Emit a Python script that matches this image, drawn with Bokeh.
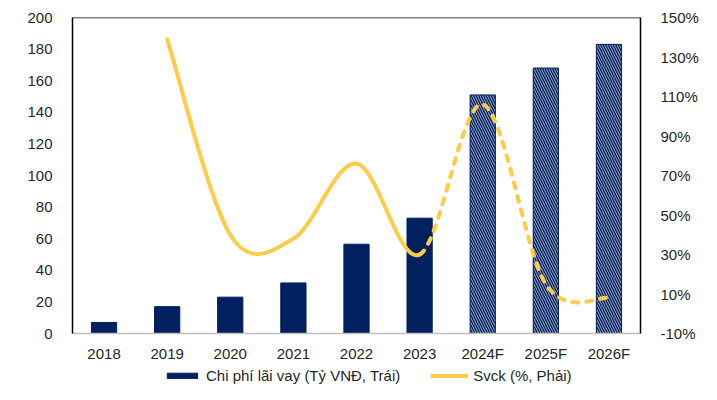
import numpy as np
from bokeh.plotting import figure
from bokeh.layouts import column
from bokeh.models import (FactorRange, Range1d, LinearAxis, FixedTicker, Legend,
                          LegendItem, Span)
from bokeh.embed import file_html
from bokeh.resources import INLINE

# ---------------- data ----------------
years = ["2018", "2019", "2020", "2021", "2022", "2023", "2024F", "2025F", "2026F"]
interest_cost = [7, 17, 23, 32, 56.5, 73, 151, 168, 183]          # Tỷ VNĐ (left)
forecast_flag = [False, False, False, False, False, False, True, True, True]

svck_years = ["2019", "2020", "2021", "2022", "2023", "2024F", "2025F", "2026F"]
svck = [139, 40, 38, 76, 30, 106, 15, 8]                             # % (right)
last_actual = "2023"

left_ticks = [0, 20, 40, 60, 80, 100, 120, 140, 160, 180, 200]
right_ticks = [-10, 10, 30, 50, 70, 90, 110, 130, 150]

bar_label = "Chi phí lãi vay (Tỷ VNĐ, Trái)"
line_label = "Svck (%, Phải)"

NAVY = "#002060"
GOLD = "#FFCC47"
FONT = "Liberation Sans"
TXT = "#262626"
FS = "15px"

# ---------------- main figure ----------------
p = figure(width=701, height=366, x_range=FactorRange(*years, range_padding=0),
           y_range=Range1d(0, 200), output_backend="svg", toolbar_location=None,
           min_border_left=72, min_border_right=51, min_border_top=17, min_border_bottom=33)
p.outline_line_color = None
p.xgrid.grid_line_color = None
p.ygrid.grid_line_color = None
p.extra_y_ranges = {"pct": Range1d(-10, 150)}

act_x = [y for y, f in zip(years, forecast_flag) if not f]
act_v = [v for v, f in zip(interest_cost, forecast_flag) if not f]
fc_x = [y for y, f in zip(years, forecast_flag) if f]
fc_v = [v for v, f in zip(interest_cost, forecast_flag) if f]

p.vbar(x=act_x, top=act_v, width=0.4, fill_color=NAVY, line_color=NAVY)
p.vbar(x=fc_x, top=fc_v, width=0.4, fill_color=NAVY, line_color=NAVY,
       hatch_pattern="left_diagonal_line", hatch_color="white", hatch_alpha=0.9,
       hatch_scale=5, hatch_weight=0.7)

# smoothed line (Excel-like Catmull-Rom Bezier), in synthetic factor coordinates
xs = np.array([years.index(y) + 0.5 for y in svck_years], dtype=float)
ys = np.array(svck, dtype=float)
pts = np.column_stack([xs, ys])
n = len(pts)
t = np.linspace(0, 1, 40)[:, None]
segs = []
for i in range(n - 1):
    p0 = pts[i - 1] if i > 0 else pts[i]
    p1 = pts[i]
    p2 = pts[i + 1]
    p3 = pts[i + 2] if i + 2 < n else pts[i + 1]
    c1 = p1 + (p2 - p0) / 6.0
    c2 = p2 - (p3 - p1) / 6.0
    b = ((1 - t) ** 3) * p1 + 3 * ((1 - t) ** 2) * t * c1 + 3 * (1 - t) * t ** 2 * c2 + t ** 3 * p2
    segs.append(b)
k = svck_years.index(last_actual)
solid = np.vstack(segs[:k])
dashed = np.vstack(segs[k:])

p.line(solid[:, 0], solid[:, 1], y_range_name="pct", line_color=GOLD,
       line_width=4, line_cap="round", line_join="round")
p.line(dashed[:, 0], dashed[:, 1], y_range_name="pct", line_color=GOLD,
       line_width=4, line_dash="6 8", line_cap="round", line_join="round")

# ---------------- axes ----------------
ax = p.xaxis[0]
ax.axis_line_color = "#BFBFBF"
ax.axis_line_width = 1.5
ax.major_tick_line_color = None
ax.minor_tick_line_color = None
ax.major_label_standoff = 5
ax.major_label_text_font = FONT
ax.major_label_text_font_size = FS
ax.major_label_text_color = TXT

ly = p.yaxis[0]
ly.ticker = FixedTicker(ticks=left_ticks)
ly.axis_line_color = "black"
ly.axis_line_width = 1.5
ly.major_tick_line_color = None
ly.minor_tick_line_color = None
ly.major_label_standoff = 14
ly.major_label_text_font = FONT
ly.major_label_text_font_size = FS
ly.major_label_text_color = TXT

ry = LinearAxis(y_range_name="pct", ticker=FixedTicker(ticks=right_ticks),
                major_label_overrides={t_: f"{t_}%" for t_ in right_ticks})
ry.axis_line_color = "black"
ry.axis_line_width = 1.5
ry.major_tick_line_color = None
ry.minor_tick_line_color = None
ry.major_label_standoff = 14
ry.major_label_text_font = FONT
ry.major_label_text_font_size = FS
ry.major_label_text_color = TXT
p.add_layout(ry, "right")

p.add_layout(Span(location=left_ticks[-1], dimension="width", line_color="black", line_width=1.5))

# ---------------- legend strip (frame aligned with main plot) ----------------
lg = figure(width=701, height=18, x_range=FactorRange(*years, range_padding=0),
            y_range=Range1d(-1000, -999), output_backend="svg", toolbar_location=None,
            min_border_left=72, min_border_right=51, min_border_top=0, min_border_bottom=0)
lg.outline_line_color = None
lg.axis.visible = False
lg.xgrid.grid_line_color = None
lg.ygrid.grid_line_color = None
bar_proxy = lg.vbar(x=act_x, top=act_v, width=0.4, fill_color=NAVY, line_color=NAVY,
                    visible=False)
line_proxy = lg.line(solid[:, 0], solid[:, 1], line_color=GOLD, line_width=4,
                     visible=False)

legend = Legend(items=[LegendItem(label=bar_label, renderers=[bar_proxy]),
                       LegendItem(label=line_label, renderers=[line_proxy])],
                location=(91, 0), orientation="horizontal",
                border_line_color=None, background_fill_alpha=0,
                padding=0, margin=0, spacing=30, label_standoff=5,
                glyph_width=38, glyph_height=7, label_height=18,
                label_text_font=FONT, label_text_font_size=FS,
                label_text_color=TXT)
lg.add_layout(legend, "center")

layout = column(p, lg, spacing=0)
open("out.html", "w").write(file_html(layout, INLINE))
